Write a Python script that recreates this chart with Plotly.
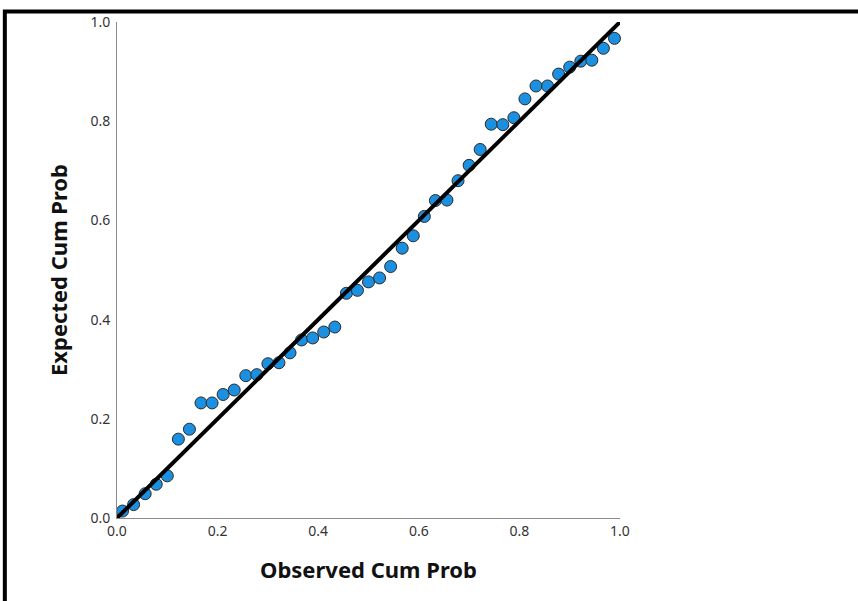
import plotly.graph_objects as go

observed = [0.011, 0.033, 0.056, 0.078, 0.100, 0.122, 0.144, 0.167, 0.189, 0.211,
            0.233, 0.256, 0.278, 0.300, 0.322, 0.344, 0.367, 0.389, 0.411, 0.433,
            0.456, 0.478, 0.500, 0.522, 0.544, 0.567, 0.589, 0.611, 0.633, 0.656,
            0.678, 0.700, 0.722, 0.744, 0.767, 0.789, 0.811, 0.833, 0.856, 0.878,
            0.900, 0.922, 0.944, 0.967, 0.989]
expected = [0.014, 0.027, 0.049, 0.068, 0.085, 0.159, 0.179, 0.232, 0.232, 0.249,
            0.258, 0.287, 0.289, 0.311, 0.313, 0.333, 0.359, 0.363, 0.375, 0.385,
            0.453, 0.459, 0.476, 0.484, 0.507, 0.544, 0.569, 0.608, 0.640, 0.641,
            0.680, 0.711, 0.743, 0.794, 0.793, 0.807, 0.845, 0.871, 0.871, 0.895,
            0.909, 0.921, 0.923, 0.947, 0.967]
ref_line = [0.0, 1.0]
tick_vals = [0.0, 0.2, 0.4, 0.6, 0.8, 1.0]
tick_text = ["0.0", "0.2", "0.4", "0.6", "0.8", "1.0"]

fig = go.Figure()
fig.add_trace(go.Scatter(
    x=observed, y=expected, mode="markers",
    marker=dict(size=12, color="#1b8fe0", line=dict(color="#2a2a2a", width=1)),
    cliponaxis=False, showlegend=False))
fig.add_trace(go.Scatter(
    x=ref_line, y=ref_line, mode="lines",
    line=dict(color="black", width=4), cliponaxis=False, showlegend=False))

axis_common = dict(
    range=[0, 1], tickvals=tick_vals, ticktext=tick_text, ticks="",
    showgrid=False, zeroline=False, showline=True, linecolor="#8c8c8c", linewidth=1,
    tickfont=dict(family="Noto Sans", size=14, color="#333333"),
)
fig.update_xaxes(**axis_common,
                 title=dict(text="Observed Cum Prob", standoff=23,
                            font=dict(family="Noto Sans", size=22, color="#111111", weight="bold")))
fig.update_yaxes(**axis_common, ticklabelstandoff=3,
                 title=dict(text="Expected Cum Prob", standoff=16,
                            font=dict(family="Noto Sans", size=22, color="#111111", weight="bold")))

fig.add_shape(type="path", xref="paper", yref="paper",
              path="M -0.223 -0.2 L -0.223 1.021 L 1.6 1.021",
              line=dict(color="black", width=4))

fig.update_layout(
    width=858, height=601,
    margin=dict(l=117, r=238, t=18, b=83),
    plot_bgcolor="white", paper_bgcolor="white",
)
fig.write_html("out.html")
